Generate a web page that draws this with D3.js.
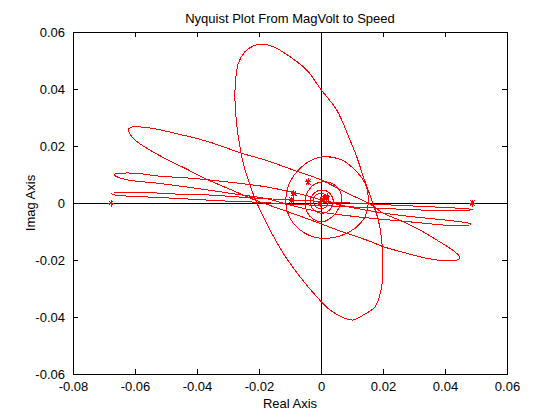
<!DOCTYPE html>
<html>
<head>
<meta charset="utf-8">
<script src="https://cdn.jsdelivr.net/npm/d3@7"></script>
<style>
  body { margin: 0; background: #fff; }
  text { font-family: "Liberation Sans", Arial, Helvetica, sans-serif; font-size: 13px; fill: #000; }
</style>
</head>
<body>
<svg id="chart" width="560" height="420"></svg>
<script>
// axis ticks
var xTicks = [-0.08, -0.06, -0.04, -0.02, 0, 0.02, 0.04, 0.06];
var yTicks = [-0.06, -0.04, -0.02, 0, 0.02, 0.04, 0.06];
var xTickLabels = ["-0.08", "-0.06", "-0.04", "-0.02", "0", "0.02", "0.04", "0.06"];
var yTickLabels = ["-0.06", "-0.04", "-0.02", "0", "0.02", "0.04", "0.06"];

// loops, [real, imag]
var bigLoop = [
  [-0.01913, 0.05579], [-0.01539, 0.05484], [-0.0100, 0.05133], [-0.00461, 0.04667],
  [0.00010, 0.03965], [0.00506, 0.03263], [0.00935, 0.02211], [0.01152, 0.01625],
  [0.01365, 0.00923], [0.01635, 0.00105], [0.01848, -0.00596], [0.01958, -0.01298],
  [0.01990, -0.02000], [0.01958, -0.02937], [0.01742, -0.03639], [0.01365, -0.03930],
  [0.01042, -0.04105], [0.00719, -0.04025], [0.00290, -0.03754], [-0.00139, -0.03288],
  [-0.00677, -0.02586], [-0.01216, -0.01765], [-0.01645, -0.00947], [-0.01968, -0.00246],
  [-0.02235, 0.00456], [-0.02506, 0.01393], [-0.02668, 0.02326], [-0.02752, 0.03147],
  [-0.02774, 0.03965], [-0.02668, 0.04902], [-0.02452, 0.05309], [-0.02184, 0.05509]
];

var longLoop = [
  [-0.06216, 0.02561], [-0.06139, 0.02656], [-0.05571, 0.02642], [-0.04710, 0.02446],
  [-0.03635, 0.02151], [-0.02558, 0.01744], [-0.01806, 0.01509], [-0.00894, 0.01158],
  [0.00010, 0.00807], [0.00829, 0.00351], [0.01581, -0.00035], [0.02010, -0.00361],
  [0.02655, -0.00656], [0.03194, -0.00947], [0.03732, -0.01298], [0.04161, -0.01589],
  [0.04429, -0.01825], [0.04461, -0.01940], [0.04377, -0.02011], [0.03839, -0.02011],
  [0.03410, -0.01940], [0.02765, -0.01765], [0.02010, -0.01533], [0.01581, -0.01344],
  [0.00613, -0.00982], [-0.00461, -0.00544], [-0.01323, -0.00211], [-0.02129, 0.00105],
  [-0.02881, 0.00456], [-0.03635, 0.00807], [-0.04387, 0.01218], [-0.05139, 0.01625],
  [-0.05784, 0.02035], [-0.06055, 0.02270]
];

var thinLoopA = [
  [-0.06677, 0.01000], [-0.06484, 0.01042], [-0.05945, 0.01042], [-0.05248, 0.00947],
  [-0.04171, 0.00867], [-0.03097, 0.00747], [-0.01806, 0.00572], [-0.00677, 0.00316],
  [0.00613, -0.00070], [0.01797, -0.00316], [0.02871, -0.00474], [0.03839, -0.00579],
  [0.04645, -0.00684], [0.04829, -0.00737], [0.04742, -0.00789], [0.04065, -0.00782],
  [0.03194, -0.00695], [0.02226, -0.00596], [0.01226, -0.00491], [-0.00065, -0.00305],
  [-0.01000, -0.00070], [-0.01806, 0.00165], [-0.02558, 0.00281], [-0.03635, 0.00456],
  [-0.05248, 0.00691], [-0.06216, 0.00807], [-0.06590, 0.00923]
];

var thinLoopB = [
  [-0.06752, 0.00333], [-0.06484, 0.00375], [-0.05784, 0.00375], [-0.04710, 0.00316],
  [-0.03635, 0.00281], [-0.02023, 0.00165], [-0.00677, 0.00095], [0.00613, 0.00018],
  [0.01903, -0.00053], [0.03516, -0.00133], [0.04581, -0.00193], [0.04881, -0.00228],
  [0.04581, -0.00274], [0.03516, -0.00256], [0.02419, -0.00211], [0.01258, -0.00151],
  [0.00129, -0.00095], [-0.01000, -0.00042], [-0.02023, 0.00025], [-0.03097, 0.00070],
  [-0.04710, 0.00165], [-0.05784, 0.00221], [-0.06645, 0.00281]
];

var ringA = [
  [0.00074, 0.01625], [0.00668, 0.01509], [0.01097, 0.01158], [0.01419, 0.00691],
  [0.01526, 0.00105], [0.01419, -0.00481], [0.01097, -0.00888], [0.00613, -0.01158],
  [0.00023, -0.01239], [-0.00516, -0.01063], [-0.00894, -0.00712], [-0.01106, -0.00246],
  [-0.01129, 0.00221], [-0.01000, 0.00747], [-0.00677, 0.01218], [-0.00300, 0.01509]
];

var ringB = [
  [0.00129, 0.00747], [0.00419, 0.00649], [0.00613, 0.00421], [0.00668, 0.00140],
  [0.00581, -0.00175], [0.00387, -0.00456], [0.00065, -0.00656], [-0.00258, -0.00561],
  [-0.00452, -0.00316], [-0.00516, 0.00035], [-0.00419, 0.00421], [-0.00194, 0.00667]
];

var ringC = [
  [0.00032, 0.00456], [0.00290, 0.00333], [0.00397, 0.00053], [0.00290, -0.00228],
  [0.00032, -0.00361], [-0.00226, -0.00246], [-0.00355, 0.00035], [-0.00242, 0.00316]
];

var ringD = [
  [0.00000, 0.00333], [0.00177, 0.00263], [0.00242, 0.00070], [0.00177, -0.00123],
  [0.00000, -0.00193], [-0.00177, -0.00123], [-0.00242, 0.00070], [-0.00177, 0.00263]
];

var ringE = [
  [0.00129, 0.00281], [0.00258, 0.00140], [0.00129, 0.00000], [0.00000, 0.00140]
];

var starPoints = [
  [-0.06774, 0], [0.04887, 0], [-0.00410, 0.00737], [-0.00871, 0.00340],
  [-0.00945, 0.00105], [-0.00032, -0.00018], [0.00129, 0.00158], [0.00194, 0.00211],
  [0.00032, 0.00123]
];

var loops = [bigLoop, longLoop, thinLoopA, thinLoopB, ringA, ringB, ringC, ringD, ringE];

function drawChart() {
  var margin = { top: 32, left: 73 };
  var width = 434, height = 342;

  var svg = d3.select("#chart");
  svg.append("rect").attr("width", 560).attr("height", 420).attr("fill", "#fff");

  var g = svg.append("g").attr("transform", "translate(" + margin.left + "," + margin.top + ")");

  var x = d3.scaleLinear().domain([-0.08, 0.06]).range([0, width]);
  var y = d3.scaleLinear().domain([-0.06, 0.06]).range([height, 0]);

  g.append("clipPath").attr("id", "plotclip")
    .append("rect").attr("width", width).attr("height", height);

  // zero lines
  g.append("line").attr("x1", 0).attr("x2", width).attr("y1", y(0)).attr("y2", y(0))
    .attr("stroke", "#000").attr("shape-rendering", "crispEdges");
  g.append("line").attr("x1", x(0)).attr("x2", x(0)).attr("y1", 0).attr("y2", height)
    .attr("stroke", "#000").attr("shape-rendering", "crispEdges");

  var line = d3.line()
    .x(function(d) { return x(d[0]); })
    .y(function(d) { return y(d[1]); })
    .curve(d3.curveCatmullRomClosed.alpha(0.5));

  // matlab draws these aliased, so keep them crisp
  var curves = g.append("g").attr("clip-path", "url(#plotclip)");
  curves.selectAll("path.loop")
    .data(loops)
    .enter().append("path")
    .attr("class", "loop")
    .attr("d", line)
    .attr("fill", "none")
    .attr("stroke", "#ff0000")
    .attr("stroke-width", 1)
    .attr("shape-rendering", "crispEdges");

  // star markers
  var star = "M-3,0H3M0,-3.5V3.5M-2.3,-2.6L2.3,2.6M-2.3,2.6L2.3,-2.6";
  curves.selectAll("path.star")
    .data(starPoints)
    .enter().append("path")
    .attr("class", "star")
    .attr("transform", function(d) { return "translate(" + x(d[0]) + "," + y(d[1]) + ")"; })
    .attr("d", star)
    .attr("fill", "none")
    .attr("stroke", "#ff0000")
    .attr("stroke-width", 1)
    .attr("shape-rendering", "crispEdges");

  // axes with inward ticks on all sides
  var tick = 5;
  var axBottom = d3.axisBottom(x).tickValues(xTicks).tickSize(-tick).tickPadding(8)
    .tickFormat(function(d, i) { return xTickLabels[i]; });
  var axTop = d3.axisTop(x).tickValues(xTicks).tickSize(-tick).tickFormat("");
  var axLeft = d3.axisLeft(y).tickValues(yTicks).tickSize(-tick).tickPadding(8)
    .tickFormat(function(d, i) { return yTickLabels[i]; });
  var axRight = d3.axisRight(y).tickValues(yTicks).tickSize(-tick).tickFormat("");

  function style(sel) {
    sel.select(".domain").remove();
    sel.selectAll("line").attr("stroke", "#000").attr("shape-rendering", "crispEdges");
    sel.selectAll("text").style("font-family", "'Liberation Sans', Arial, sans-serif")
      .style("font-size", "13px").attr("fill", "#000");
  }

  g.append("g").attr("transform", "translate(0," + height + ")").call(axBottom).call(style);
  g.append("g").call(axTop).call(style);
  g.append("g").call(axLeft).call(style);
  g.append("g").attr("transform", "translate(" + width + ",0)").call(axRight).call(style);

  g.append("rect").attr("width", width).attr("height", height)
    .attr("fill", "none").attr("stroke", "#000").attr("shape-rendering", "crispEdges");

  // labels
  svg.append("text").attr("x", margin.left + width / 2).attr("y", 23)
    .attr("text-anchor", "middle").text("Nyquist Plot From MagVolt to Speed");
  svg.append("text").attr("x", margin.left + width / 2).attr("y", 408)
    .attr("text-anchor", "middle").text("Real Axis");
  svg.append("text").attr("transform", "translate(35," + (margin.top + height / 2) + ") rotate(-90)")
    .attr("text-anchor", "middle").text("Imag Axis");
}

drawChart();
</script>
</body>
</html>
